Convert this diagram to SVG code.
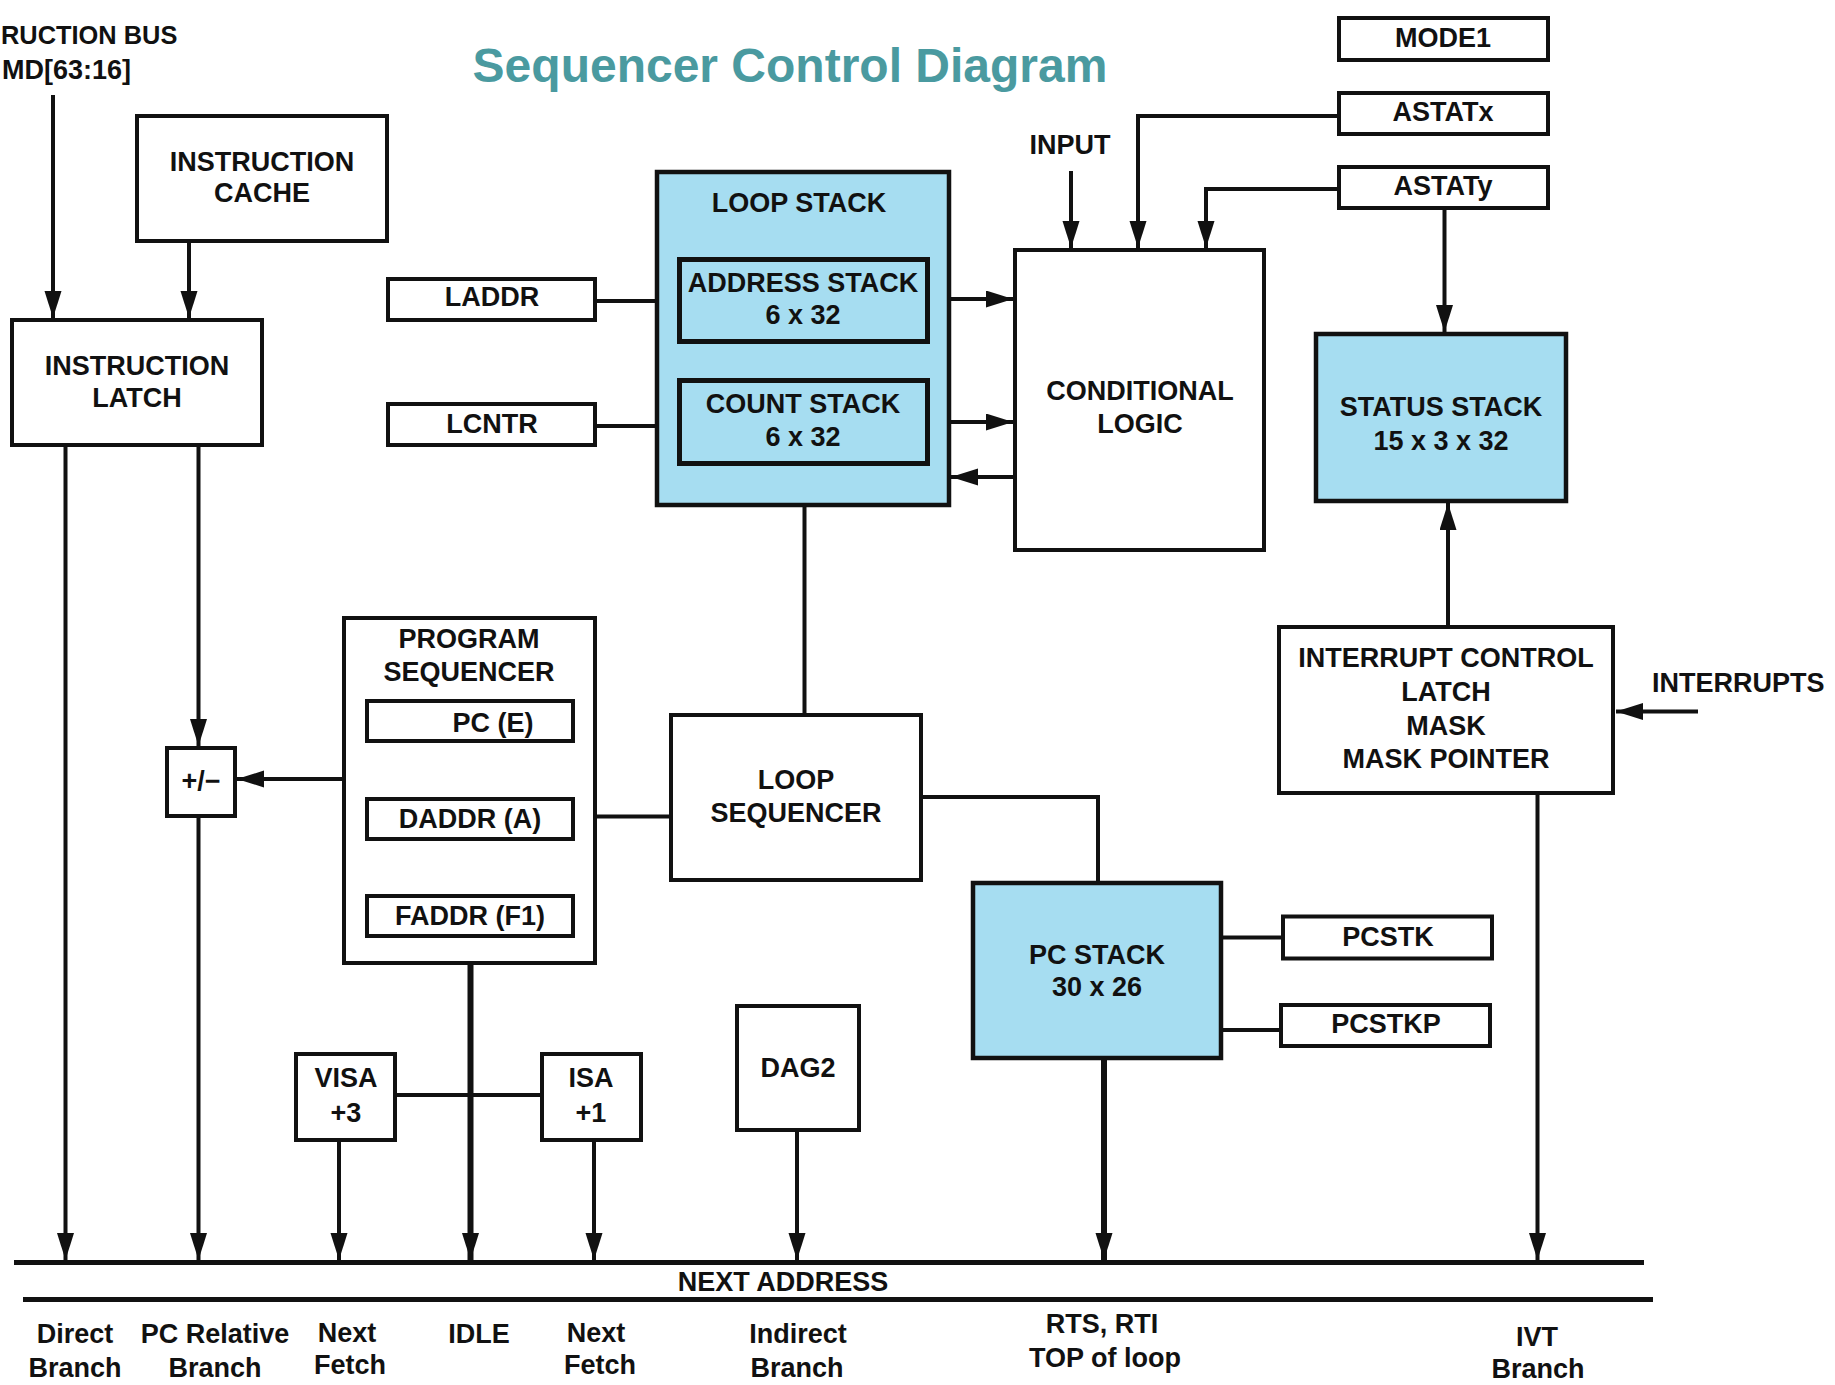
<svg xmlns="http://www.w3.org/2000/svg" width="1835" height="1385" viewBox="0 0 1835 1385">
<style>
text{font-family:"Liberation Sans",Arial,sans-serif;font-weight:bold;font-size:27px;fill:#111;text-anchor:middle}
.title{font-size:48px;fill:#4a9aa0}
.box{fill:#fff;stroke:#111;stroke-width:4}
.blue{fill:#a6ddf1;stroke:#111;stroke-width:4.5}
.inner{fill:#a6ddf1;stroke:#111;stroke-width:5}
.c{fill:none;stroke:#111;stroke-width:4}
.thick{fill:none;stroke:#111;stroke-width:6}
.bus{fill:none;stroke:#111;stroke-width:5}
</style>
<defs>
<marker id="ah" markerUnits="userSpaceOnUse" markerWidth="28" markerHeight="18" refX="27" refY="8.5" orient="auto">
<path d="M0,0 L27,8.5 L0,17 z" fill="#111"/>
</marker>
</defs>
<rect width="1835" height="1385" fill="#fff"/>
<text class="title" x="790" y="82">Sequencer Control Diagram</text>
<g id="instruction-bus">
<text x="1" y="44" style="text-anchor:start;font-size:25.4px">RUCTION BUS</text>
<text x="131" y="79" style="text-anchor:end">MD[63:16]</text>
</g>
<g id="input-label"><text x="1070" y="154">INPUT</text></g>
<g id="interrupts-label"><text x="1652" y="692" style="text-anchor:start">INTERRUPTS</text></g>

<g id="connectors">
<line class="c" x1="53" y1="95" x2="53" y2="318" marker-end="url(#ah)"/>
<line class="c" x1="189" y1="243" x2="189" y2="318" marker-end="url(#ah)"/>
<line class="c" x1="65.5" y1="447" x2="65.5" y2="1260" marker-end="url(#ah)"/>
<line class="c" x1="198.5" y1="447" x2="198.5" y2="746" marker-end="url(#ah)"/>
<line class="c" x1="198.5" y1="818" x2="198.5" y2="1260" marker-end="url(#ah)"/>
<line class="c" x1="342" y1="779" x2="237" y2="779" marker-end="url(#ah)"/>
<line class="thick" x1="470" y1="797" x2="470" y2="743" marker-end="url(#ah)"/>
<line class="thick" x1="470" y1="894" x2="470" y2="841" marker-end="url(#ah)"/>
<line class="thick" x1="470.5" y1="938" x2="470.5" y2="1260" marker-end="url(#ah)"/>
<line class="c" x1="397" y1="1095" x2="540" y2="1095"/>
<line class="c" x1="339" y1="1142" x2="339" y2="1260" marker-end="url(#ah)"/>
<line class="c" x1="594" y1="1142" x2="594" y2="1260" marker-end="url(#ah)"/>
<line class="c" x1="797" y1="1132" x2="797" y2="1260" marker-end="url(#ah)"/>
<line class="thick" x1="1104" y1="1060" x2="1104" y2="1260" marker-end="url(#ah)"/>
<line class="c" x1="1537.5" y1="795" x2="1537.5" y2="1260" marker-end="url(#ah)"/>
<line class="c" x1="597" y1="816.5" x2="669" y2="816.5"/>
<line class="c" x1="804.5" y1="507" x2="804.5" y2="713"/>
<polyline class="c" points="923,797 1098,797 1098,881"/>
<line class="c" x1="1223" y1="937.5" x2="1281" y2="937.5"/>
<line class="c" x1="1223" y1="1030" x2="1281" y2="1030"/>
<line class="c" x1="597" y1="301" x2="655" y2="301"/>
<line class="c" x1="597" y1="426" x2="655" y2="426"/>
<line class="c" x1="930" y1="299" x2="1013" y2="299" marker-end="url(#ah)"/>
<line class="c" x1="930" y1="422" x2="1013" y2="422" marker-end="url(#ah)"/>
<line class="c" x1="1013" y1="477" x2="951" y2="477" marker-end="url(#ah)"/>
<line class="c" x1="1071" y1="171" x2="1071" y2="248" marker-end="url(#ah)"/>
<polyline class="c" points="1337,116 1138,116 1138,248" marker-end="url(#ah)"/>
<polyline class="c" points="1337,189 1206,189 1206,248" marker-end="url(#ah)"/>
<line class="c" x1="1444.5" y1="210" x2="1444.5" y2="332" marker-end="url(#ah)"/>
<line class="c" x1="1448" y1="625" x2="1448" y2="503" marker-end="url(#ah)"/>
<line class="c" x1="1698" y1="711.5" x2="1616" y2="711.5" marker-end="url(#ah)"/>
</g>

<g id="instruction-cache"><rect class="box" x="137" y="116" width="250" height="125"/><text x="262" y="171">INSTRUCTION</text><text x="262" y="202">CACHE</text></g>
<g id="instruction-latch"><rect class="box" x="12" y="320" width="250" height="125"/><text x="137" y="375">INSTRUCTION</text><text x="137" y="407">LATCH</text></g>
<g id="laddr"><rect class="box" x="388" y="279" width="207" height="41"/><text x="492" y="306">LADDR</text></g>
<g id="lcntr"><rect class="box" x="388" y="404" width="207" height="41"/><text x="492" y="433">LCNTR</text></g>
<g id="loop-stack"><rect class="blue" x="657" y="172" width="292" height="333"/><text x="799" y="212">LOOP STACK</text>
<g id="address-stack"><rect class="inner" x="679.5" y="259.5" width="248" height="82"/><text x="803" y="292">ADDRESS STACK</text><text x="803" y="324">6 x 32</text></g>
<g id="count-stack"><rect class="inner" x="679.5" y="380.5" width="248" height="83"/><text x="803" y="413">COUNT STACK</text><text x="803" y="446">6 x 32</text></g>
</g>
<g id="conditional-logic"><rect class="box" x="1015" y="250" width="249" height="300"/><text x="1140" y="400">CONDITIONAL</text><text x="1140" y="433">LOGIC</text></g>
<g id="mode1"><rect class="box" x="1339" y="18" width="209" height="42"/><text x="1443" y="47">MODE1</text></g>
<g id="astatx"><rect class="box" x="1339" y="93" width="209" height="41"/><text x="1443" y="121">ASTATx</text></g>
<g id="astaty"><rect class="box" x="1339" y="167" width="209" height="41"/><text x="1443" y="195">ASTATy</text></g>
<g id="status-stack"><rect class="blue" x="1316" y="334" width="250" height="167"/><text x="1441" y="416">STATUS STACK</text><text x="1441" y="450">15 x 3 x 32</text></g>
<g id="interrupt-control"><rect class="box" x="1279" y="627" width="334" height="166"/><text x="1446" y="667">INTERRUPT CONTROL</text><text x="1446" y="701">LATCH</text><text x="1446" y="735">MASK</text><text x="1446" y="768">MASK POINTER</text></g>
<g id="program-sequencer"><rect class="box" x="344" y="618" width="251" height="345"/><text x="469" y="648">PROGRAM</text><text x="469" y="681">SEQUENCER</text>
<g id="pc-e"><rect class="box" x="367" y="701" width="206" height="40"/><text x="493" y="732">PC (E)</text></g>
<g id="daddr"><rect class="box" x="367" y="799" width="206" height="40"/><text x="470" y="828">DADDR (A)</text></g>
<g id="faddr"><rect class="box" x="367" y="896" width="206" height="40"/><text x="470" y="925">FADDR (F1)</text></g>
</g>
<g id="plus-minus"><rect class="box" x="167" y="748" width="68" height="68"/><text x="201" y="790">+/−</text></g>
<g id="loop-sequencer"><rect class="box" x="671" y="715" width="250" height="165"/><text x="796" y="789">LOOP</text><text x="796" y="822">SEQUENCER</text></g>
<g id="pc-stack"><rect class="blue" x="973" y="883" width="248" height="175"/><text x="1097" y="964">PC STACK</text><text x="1097" y="996">30 x 26</text></g>
<g id="pcstk"><rect class="box" x="1283" y="916.5" width="209" height="42"/><text x="1388" y="946">PCSTK</text></g>
<g id="pcstkp"><rect class="box" x="1281" y="1005" width="209" height="41"/><text x="1386" y="1033">PCSTKP</text></g>
<g id="visa"><rect class="box" x="296" y="1054" width="99" height="86"/><text x="346" y="1087">VISA</text><text x="346" y="1122">+3</text></g>
<g id="isa"><rect class="box" x="542" y="1054" width="99" height="86"/><text x="591" y="1087">ISA</text><text x="591" y="1122">+1</text></g>
<g id="dag2"><rect class="box" x="737" y="1006" width="122" height="124"/><text x="798" y="1077">DAG2</text></g>

<g id="next-address">
<line class="bus" x1="14" y1="1262.5" x2="1644" y2="1262.5"/>
<line class="bus" x1="23" y1="1299.5" x2="1653" y2="1299.5"/>
<text x="783" y="1291">NEXT ADDRESS</text>
</g>
<g id="bottom-labels">
<text x="75" y="1343">Direct</text><text x="75" y="1377">Branch</text>
<text x="215" y="1343">PC Relative</text><text x="215" y="1377">Branch</text>
<text x="347" y="1342">Next</text><text x="350" y="1374">Fetch</text>
<text x="479" y="1343">IDLE</text>
<text x="596" y="1342">Next</text><text x="600" y="1374">Fetch</text>
<text x="798" y="1343">Indirect</text><text x="797" y="1377">Branch</text>
<text x="1102" y="1333">RTS, RTI</text><text x="1105" y="1367">TOP of loop</text>
<text x="1537" y="1346">IVT</text><text x="1538" y="1378">Branch</text>
</g>
</svg>
